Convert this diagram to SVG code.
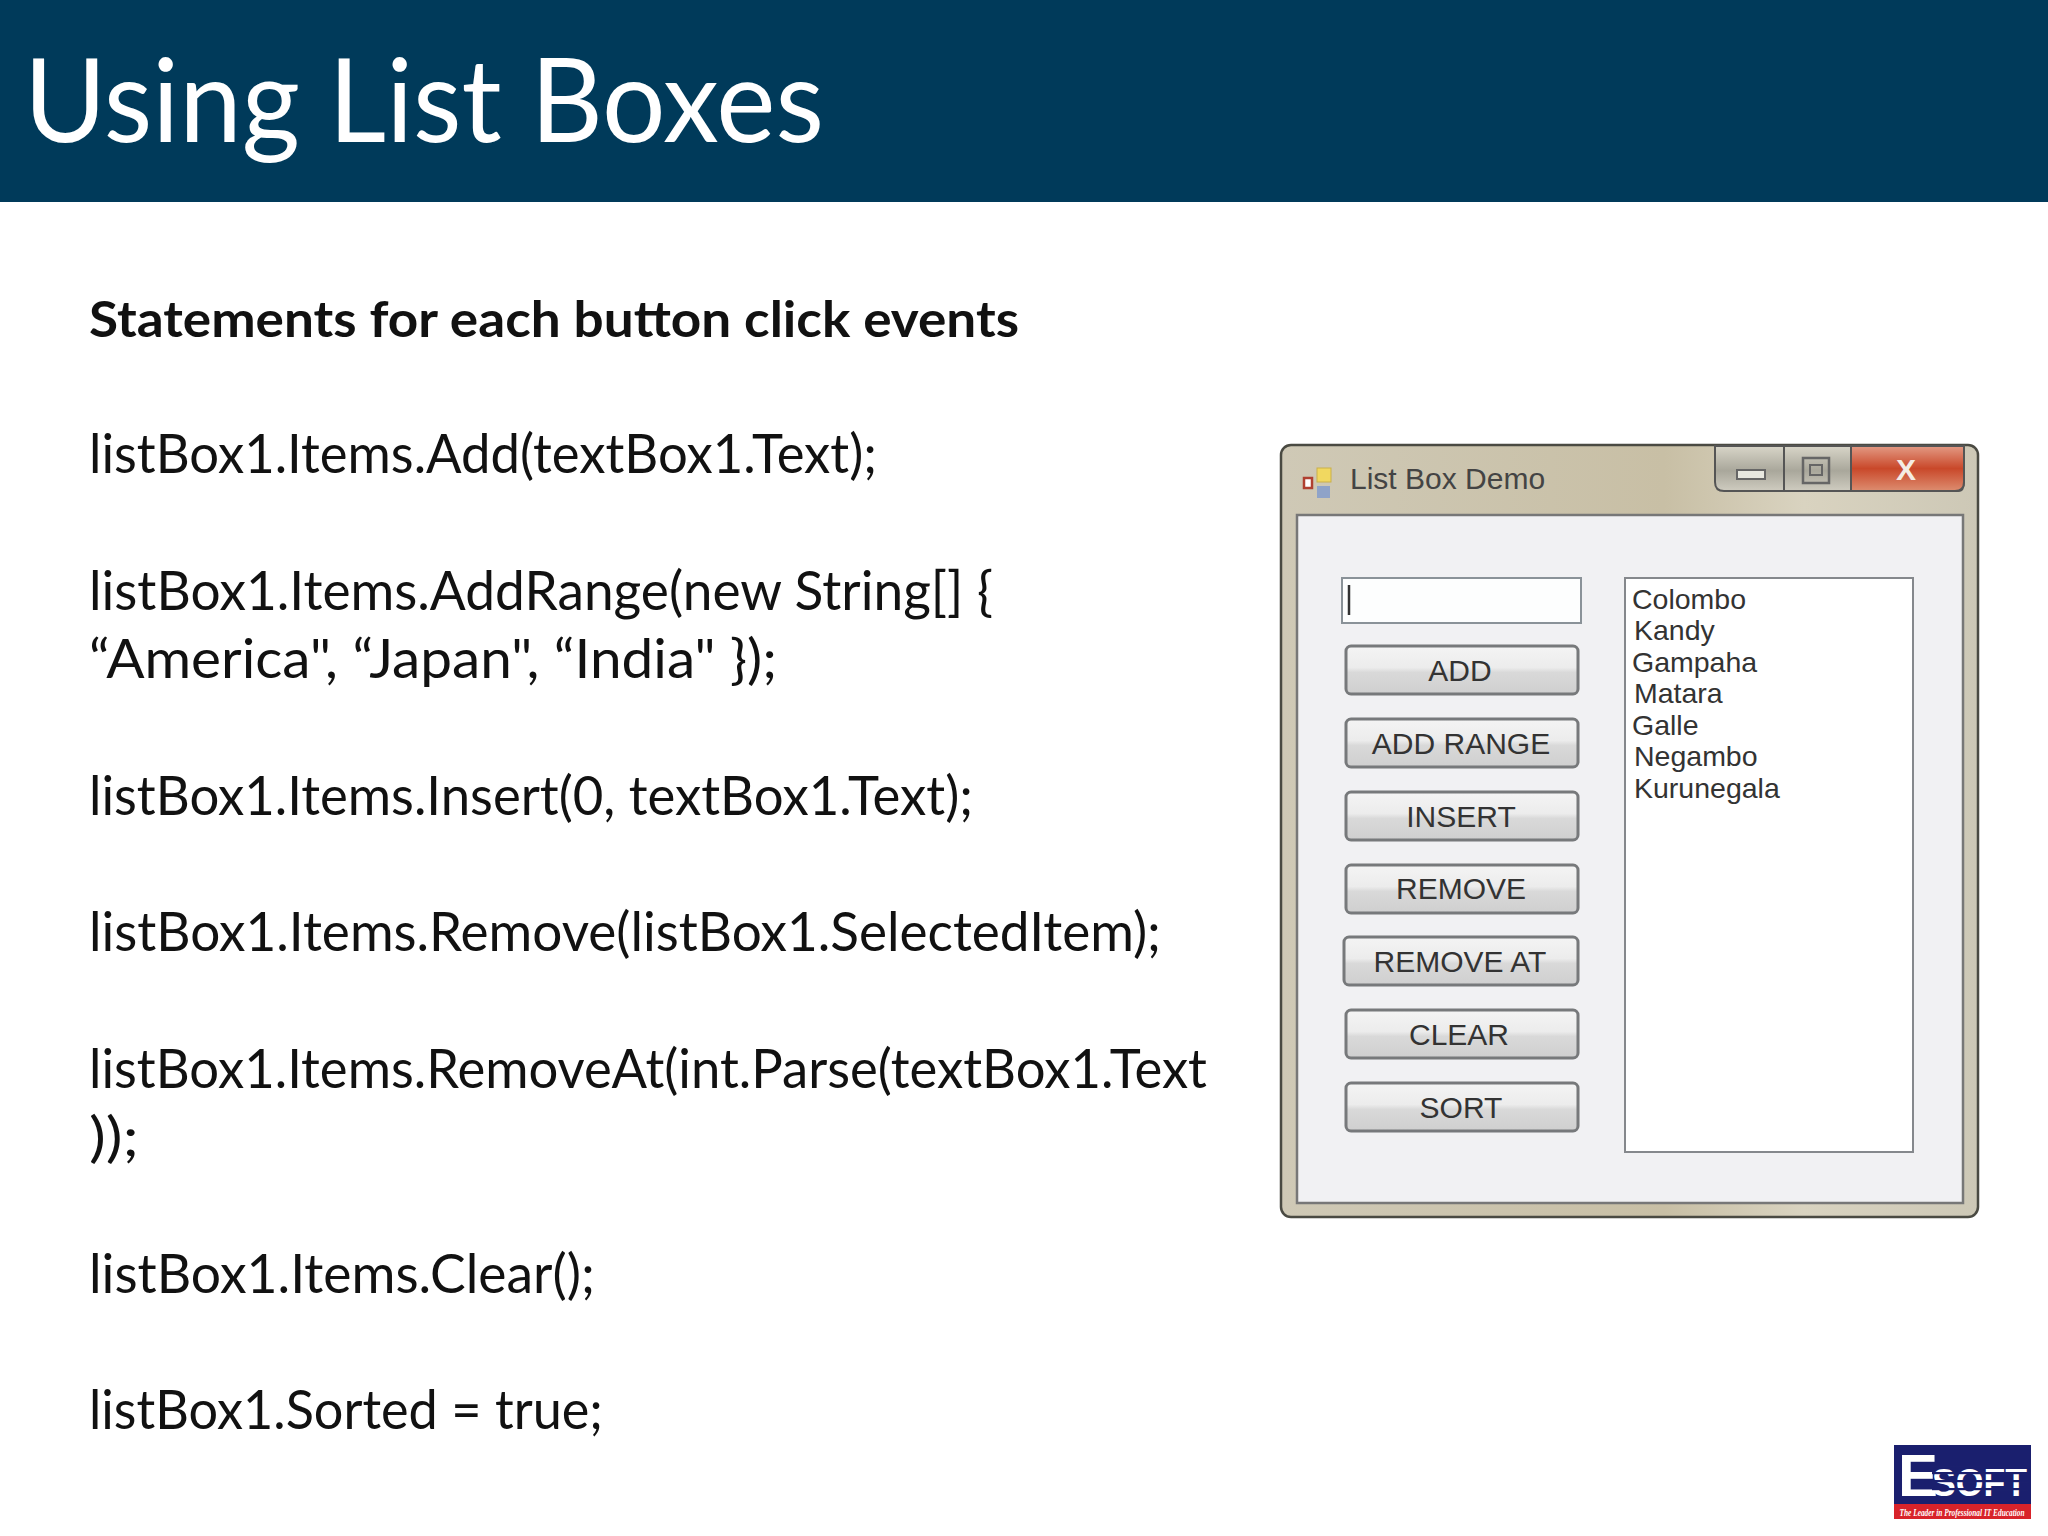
<svg xmlns="http://www.w3.org/2000/svg" width="2048" height="1536" viewBox="0 0 2048 1536">
<style>
.code{font-family:Lato,"Open Sans",sans-serif;font-size:54px;fill:#111}
.ui{font-family:"Liberation Sans",Arial,sans-serif;font-size:30px;fill:#333;text-anchor:middle}
.li{font-family:"Liberation Sans",Arial,sans-serif;font-size:28.5px;fill:#333}
.btn{fill:url(#b);stroke:#77797b;stroke-width:3}
</style>
<defs>
<linearGradient id="b" x1="0" y1="0" x2="0" y2="1"><stop offset="0" stop-color="#f4f4f4"/><stop offset=".45" stop-color="#ececec"/><stop offset=".55" stop-color="#d9d9d9"/><stop offset="1" stop-color="#cfcfcf"/></linearGradient>
<linearGradient id="tb" x1="0" y1="0" x2="1" y2="0"><stop offset="0" stop-color="#cfc9b6"/><stop offset=".55" stop-color="#c8bfa5"/><stop offset=".75" stop-color="#d9d3c0"/><stop offset="1" stop-color="#cdc8b6"/></linearGradient>
<linearGradient id="cl" x1="0" y1="0" x2="0" y2="1"><stop offset="0" stop-color="#e39a84"/><stop offset=".5" stop-color="#c9482a"/><stop offset="1" stop-color="#dd8d70"/></linearGradient>
<linearGradient id="mn" x1="0" y1="0" x2="0" y2="1"><stop offset="0" stop-color="#d8d5c8"/><stop offset=".55" stop-color="#a9a79b"/><stop offset="1" stop-color="#cfccc0"/></linearGradient>
<pattern id="st" width="8" height="8" patternUnits="userSpaceOnUse"><rect width="8" height="2.2" fill="#1a1f6e"/></pattern>
</defs>
<rect width="2048" height="1536" fill="#fff"/>
<g id="header"><rect width="2048" height="202" fill="#003a5a"/>
<text x="24" y="142" font-family="Lato,'Open Sans',sans-serif" font-size="116" fill="#fff" textLength="800" lengthAdjust="spacingAndGlyphs">Using List Boxes</text></g>
<g id="body">
<text x="89" y="337" font-family="Lato,'Open Sans',sans-serif" font-size="50" font-weight="700" fill="#111" textLength="930" lengthAdjust="spacingAndGlyphs">Statements for each button click events</text>
<text class="code" x="89" y="473" textLength="788" lengthAdjust="spacingAndGlyphs">listBox1.Items.Add(textBox1.Text);</text>
<text class="code" x="89" y="610" textLength="904" lengthAdjust="spacingAndGlyphs">listBox1.Items.AddRange(new String[] {</text>
<text class="code" x="89" y="678" textLength="688" lengthAdjust="spacingAndGlyphs">“America", “Japan", “India" });</text>
<text class="code" x="89" y="815" textLength="884" lengthAdjust="spacingAndGlyphs">listBox1.Items.Insert(0, textBox1.Text);</text>
<text class="code" x="89" y="951" textLength="1072" lengthAdjust="spacingAndGlyphs">listBox1.Items.Remove(listBox1.SelectedItem);</text>
<text class="code" x="89" y="1088" textLength="1118" lengthAdjust="spacingAndGlyphs">listBox1.Items.RemoveAt(int.Parse(textBox1.Text</text>
<text class="code" x="89" y="1156" textLength="50" lengthAdjust="spacingAndGlyphs">));</text>
<text class="code" x="89" y="1293" textLength="506" lengthAdjust="spacingAndGlyphs">listBox1.Items.Clear();</text>
<text class="code" x="89" y="1429" textLength="514" lengthAdjust="spacingAndGlyphs">listBox1.Sorted = true;</text>
</g>
<g id="window">
<rect x="1281" y="445" width="697" height="772" rx="10" fill="url(#tb)" stroke="#4a4a42" stroke-width="2.5"/>
<rect x="1297" y="515" width="666" height="688" fill="#f1f1f3" stroke="#777" stroke-width="2.5"/>
<g id="icon"><rect x="1304" y="478" width="8" height="10" fill="#fff" stroke="#b04030" stroke-width="2.5"/><rect x="1317" y="468" width="14" height="14" fill="#f1d860" stroke="#c9b04a"/><rect x="1317" y="486" width="13" height="12" fill="#8fa3c8"/></g>
<text x="1350" y="489" font-family="'Liberation Sans',Arial,sans-serif" font-size="30" fill="#444">List Box Demo</text>
<g id="caption">
<path d="M1715 446V482Q1715 491 1724 491H1958Q1964 491 1964 482V446Z" fill="url(#mn)" stroke="#555" stroke-width="2"/>
<path d="M1851 446H1964V482Q1964 491 1955 491H1851Z" fill="url(#cl)" stroke="#555" stroke-width="2"/>
<line x1="1784" y1="446" x2="1784" y2="491" stroke="#555" stroke-width="2"/>
<rect x="1737" y="470" width="28" height="9" fill="#e8e8e0" stroke="#666" stroke-width="2"/>
<rect x="1803" y="458" width="26" height="25" fill="none" stroke="#666" stroke-width="2.5"/><rect x="1810" y="465" width="12" height="10" fill="none" stroke="#666" stroke-width="2"/>
<text x="1906" y="480" font-family="'Liberation Sans',Arial,sans-serif" font-size="30" font-weight="700" fill="#f4ece4" text-anchor="middle">X</text>
</g>
<g id="textbox"><rect x="1342" y="578" width="239" height="45" fill="#fdfefe" stroke="#8a9298" stroke-width="2"/><line x1="1349" y1="585" x2="1349" y2="615" stroke="#333" stroke-width="2.5"/></g>
<g id="btn-add"><rect class="btn" x="1346" y="646" width="232" height="48" rx="5"/><text class="ui" x="1460" y="681">ADD</text></g>
<g id="btn-addrange"><rect class="btn" x="1346" y="719" width="232" height="48" rx="5"/><text class="ui" x="1461" y="754">ADD RANGE</text></g>
<g id="btn-insert"><rect class="btn" x="1346" y="792" width="232" height="48" rx="5"/><text class="ui" x="1461" y="827">INSERT</text></g>
<g id="btn-remove"><rect class="btn" x="1346" y="865" width="232" height="48" rx="5"/><text class="ui" x="1461" y="899">REMOVE</text></g>
<g id="btn-removeat"><rect class="btn" x="1344" y="937" width="234" height="48" rx="5"/><text class="ui" x="1460" y="972">REMOVE AT</text></g>
<g id="btn-clear"><rect class="btn" x="1346" y="1010" width="232" height="48" rx="5"/><text class="ui" x="1459" y="1045">CLEAR</text></g>
<g id="btn-sort"><rect class="btn" x="1346" y="1083" width="232" height="48" rx="5"/><text class="ui" x="1461" y="1118">SORT</text></g>
<g id="listbox"><rect x="1625" y="578" width="288" height="574" fill="#fff" stroke="#85888c" stroke-width="2"/>
<text class="li" x="1632" y="609">Colombo</text><text class="li" x="1634" y="640">Kandy</text><text class="li" x="1632" y="672">Gampaha</text><text class="li" x="1634" y="703">Matara</text><text class="li" x="1632" y="735">Galle</text><text class="li" x="1634" y="766">Negambo</text><text class="li" x="1634" y="798">Kurunegala</text></g>
</g>
<g id="logo">
<rect x="1894" y="1445" width="137" height="59" fill="#1a1f6e"/><rect x="1894" y="1504" width="137" height="15" fill="#d8232a"/>
<text x="1898" y="1496" font-family="'Liberation Sans',Arial,sans-serif" font-size="60" font-weight="700" fill="#fff">E</text>
<text x="1932" y="1496" font-family="'Liberation Sans',Arial,sans-serif" font-size="38" font-weight="700" fill="#fff" textLength="95" lengthAdjust="spacingAndGlyphs">SOFT</text>
<rect x="1932" y="1466" width="96" height="32" fill="url(#st)"/>
<text x="1962" y="1516" font-family="'Liberation Serif',serif" font-size="10.5" font-style="italic" font-weight="700" fill="#fff" text-anchor="middle" textLength="125" lengthAdjust="spacingAndGlyphs">The Leader in Professional IT Education</text>
</g>
</svg>
